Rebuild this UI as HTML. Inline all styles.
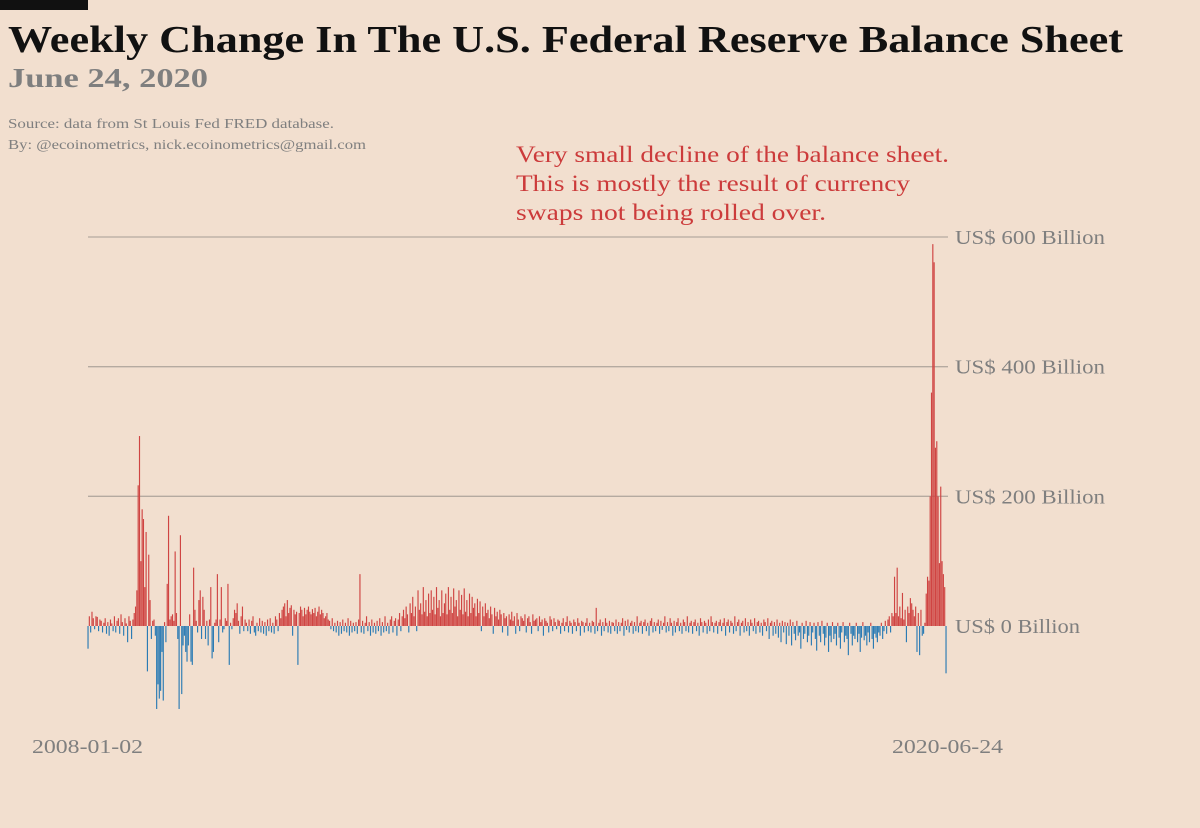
<!DOCTYPE html>
<html><head><meta charset="utf-8"><style>
html,body{margin:0;padding:0;background:#f2dfcf;}
svg{display:block;font-family:"Liberation Serif",serif;}
</style></head><body>
<svg id="chart" width="1200" height="828" viewBox="0 0 1200 828" xmlns="http://www.w3.org/2000/svg">
<rect x="0" y="0" width="1200" height="828" fill="#f2dfcf"/>
<rect x="0" y="0" width="88" height="10" fill="#111"/>
<text x="8" y="52" font-size="38" font-weight="bold" fill="#111" textLength="1115" lengthAdjust="spacingAndGlyphs">Weekly Change In The U.S. Federal Reserve Balance Sheet</text>
<text x="8" y="87" font-size="27" font-weight="bold" fill="#7f7f7f" textLength="200" lengthAdjust="spacingAndGlyphs">June 24, 2020</text>
<text x="8" y="128" font-size="14" fill="#7f7f7f" textLength="326" lengthAdjust="spacingAndGlyphs">Source: data from  St Louis Fed FRED database.</text>
<text x="8" y="149" font-size="14" fill="#7f7f7f" textLength="358" lengthAdjust="spacingAndGlyphs">By: @ecoinometrics, nick.ecoinometrics@gmail.com</text>
<g font-size="23" fill="#cc3b3b">
<text x="516" y="162" textLength="433" lengthAdjust="spacingAndGlyphs">Very small decline of the balance sheet.</text>
<text x="516" y="191" textLength="394" lengthAdjust="spacingAndGlyphs">This is mostly the result of currency</text>
<text x="516" y="220" textLength="310" lengthAdjust="spacingAndGlyphs">swaps not being rolled over.</text>
</g>
<g id="grid"></g>
<g id="bars"></g>
<g id="ylabels"></g>
<text x="32" y="753" font-size="20" fill="#7f7f7f" textLength="111" lengthAdjust="spacingAndGlyphs">2008-01-02</text>
<text x="892" y="753" font-size="20" fill="#7f7f7f" textLength="111" lengthAdjust="spacingAndGlyphs">2020-06-24</text>
</svg>
<script>
const yTicks = [0, 200, 400, 600];
const yTickLabels = ["US$ 0 Billion","US$ 200 Billion","US$ 400 Billion","US$ 600 Billion"];
const startDate = "2008-01-02";
const endDate = "2020-06-24";
const weeklyChange = [
-35,15,-10,22,12,-5,15,14,-8,10, 8,-10,5,12,-12,6,-15,10,4,-8,
15,-10,8,12,-12,18,6,-15,12,4, -25,15,8,-20,10,20,30,55,217,293,
100,180,165,60,145,-70,110,40,-20,8, 10,-15,-128,-90,-112,-100,-40,-115,6,-25,
65,170,10,15,18,8,115,20,-20,-128, 140,-105,-30,-15,-40,-55,-30,18,-55,-60,
90,25,8,-10,40,55,-20,45,25,-20, 8,-30,10,60,-50,-40,5,10,80,-25,
10,60,-10,-5,12,8,65,-60,5,-5, 12,25,20,35,8,-12,15,30,-8,10,
5,-8,10,-12,8,15,-10,-15,5,-8, 12,-10,8,-12,6,-15,10,-8,12,-10,
5,-12,15,10,-8,20,12,25,30,35, 15,40,20,28,32,-15,25,18,22,-60,
20,30,25,15,28,18,25,30,22,18, 26,20,28,15,22,30,18,25,20,12,
15,20,10,8,-5,12,-8,5,-10,8, -15,6,-12,10,-8,5,-10,12,-15,8,
-10,5,-8,6,-12,10,80,-10,8,-12, 5,15,-8,6,-15,10,-10,5,-12,8,
-8,12,-15,6,-10,15,-8,5,-12,10, 15,-10,8,12,-15,10,20,-8,15,25,
12,30,18,-10,35,20,45,15,30,-8, 55,25,35,18,60,22,40,15,50,20,
55,25,45,18,60,28,40,15,55,20, 35,50,18,60,25,45,20,58,30,40,
15,55,25,48,18,58,22,40,15,50, 20,45,28,35,15,42,20,38,-8,30,
15,35,20,25,12,30,18,-12,28,15, 22,10,25,18,-10,20,12,15,-15,18,
10,22,8,15,-12,20,10,-8,15,12, 8,18,-10,12,15,6,-12,18,8,10,
12,-8,15,6,10,-15,12,8,5,-10, 15,10,-8,12,6,-5,10,8,-12,5,
12,-8,6,15,-10,8,5,-12,10,6, -8,12,5,-15,8,6,-10,5,12,-8,
5,-10,8,6,-12,28,-8,5,10,-15, 6,-8,12,5,-10,8,-12,6,5,-8,
10,-12,6,-8,5,12,-15,8,-6,10, -10,5,8,-12,6,-8,15,-10,5,8,
-12,6,10,-8,5,-15,8,12,-10,6, -8,5,10,-12,8,-6,5,15,-10,6,
-8,12,5,-15,8,-10,6,12,-8,5, -12,10,6,-8,15,-10,5,8,-12,6,
10,-8,5,-15,12,6,-10,8,5,-12, 10,-8,15,6,-10,5,8,-12,6,10,
-8,5,12,-15,6,10,-10,8,5,-12, 15,-8,6,10,-15,5,8,-10,12,-8,
6,-15,10,5,-8,12,-12,6,8,-10, 5,-15,10,6,-8,12,-20,5,8,-15,
6,-12,10,-18,5,-25,8,-10,6,-28, 5,-15,10,-30,6,-12,-22,8,-15,-10,
-35,5,-20,-12,8,-25,-15,6,-30,-10, 5,-20,-38,6,-15,-25,8,-12,-30,-18,
5,-40,-15,-25,6,-20,-12,-30,5,-18, -35,-10,6,-25,-15,-20,-45,5,-12,-30,
-15,-20,5,-25,-12,-40,-18,6,-22,-15, -30,-10,-25,5,-20,-35,-12,-18,-25,-10,
-15,5,-20,-8,8,-12,10,15,-10,20, 15,76,20,90,15,30,12,51,10,25,
-25,30,20,43,35,25,15,30,-40,20, -45,25,-15,-12,5,50,76,70,200,360,
589,561,275,285,200,97,215,100,80,60,-73
];

const NS = "http://www.w3.org/2000/svg";
const plotLeft = 88, plotRight = 948;
const zeroY = 626, pxPerBillion = (626 - 237) / 600;
function yScale(v){ return zeroY - v * pxPerBillion; }
const step = (946 - 88) / (weeklyChange.length - 1);
function xScale(i){ return plotLeft + i * step; }
const labelWidths = [125, 150, 150, 150];

const grid = document.getElementById('grid');
const ylabels = document.getElementById('ylabels');
yTicks.forEach((t, k) => {
  const y = yScale(t);
  if (t !== 0) {
    const l = document.createElementNS(NS, 'line');
    
    
    l.setAttribute('x1', plotLeft); l.setAttribute('x2', plotRight);
    l.setAttribute('y1', y); l.setAttribute('y2', y);
    l.setAttribute('stroke', '#b5aaa0'); l.setAttribute('stroke-width', '1.3');
    grid.appendChild(l);
  }
  const tx = document.createElementNS(NS, 'text');
  
  
  tx.setAttribute('x', 955); tx.setAttribute('y', y + 7);
  tx.setAttribute('font-size', '20'); tx.setAttribute('fill', '#7f7f7f');
  tx.setAttribute('textLength', labelWidths[k]);
  tx.setAttribute('lengthAdjust', 'spacingAndGlyphs');
  tx.textContent = yTickLabels[k];
  ylabels.appendChild(tx);
});

const bars = document.getElementById('bars');
weeklyChange.forEach((v, i) => {
  const r = document.createElementNS(NS, 'rect');
  
  
  const y0 = yScale(Math.max(v, 0)), y1 = yScale(Math.min(v, 0));
  r.setAttribute('x', xScale(i) - 0.55);
  r.setAttribute('width', 1.15);
  r.setAttribute('y', y0);
  r.setAttribute('height', Math.max(y1 - y0, 0.5));
  r.setAttribute('fill', v >= 0 ? '#cf4442' : '#2b7bb4');
  bars.appendChild(r);
});
</script>
</body></html>
